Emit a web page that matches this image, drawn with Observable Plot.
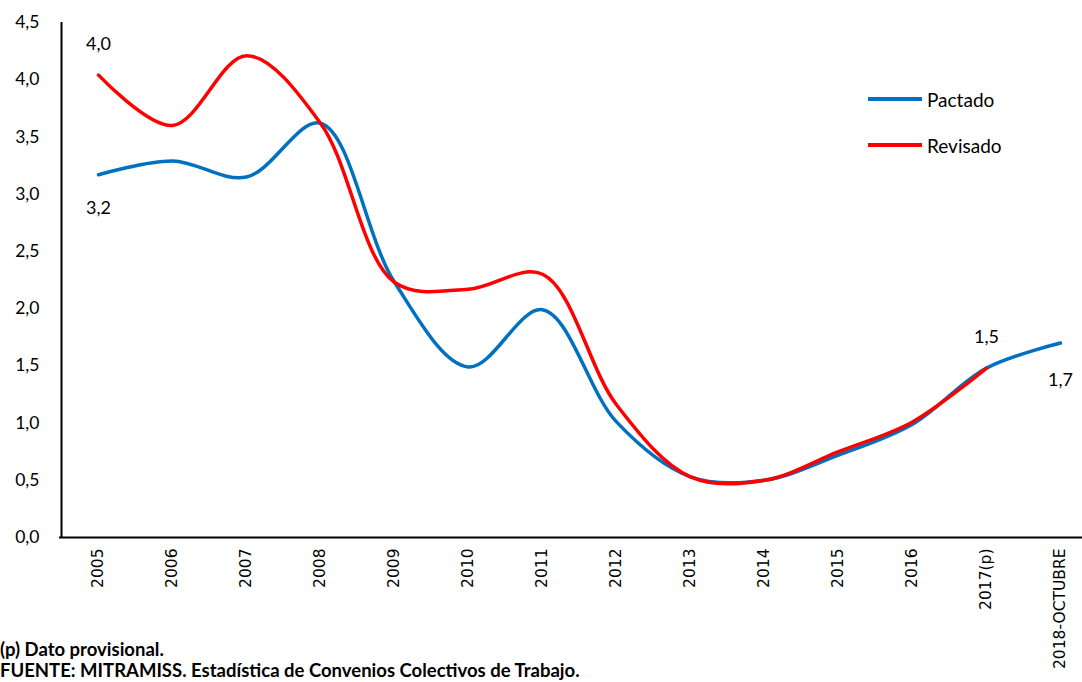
<!DOCTYPE html>
<html>
<head>
<meta charset="utf-8">
<script src="https://cdn.jsdelivr.net/npm/d3@7"></script>
<script src="https://cdn.jsdelivr.net/npm/@observablehq/plot@0.6"></script>
<style>
  html, body { margin: 0; padding: 0; background: #fff; overflow: hidden; }
  #wrap { position: relative; width: 1082px; height: 682px; overflow: hidden; }
  .legend { position: absolute; left: 868px; font-family: Lato, "Open Sans", sans-serif; font-size: 19px; color: #000; display: flex; align-items: center; height: 22px; }
  .legend .sw { width: 54px; height: 3.5px; margin-right: 5px; }
  .note { position: absolute; left: 0px; font-family: Lato, "Open Sans", sans-serif; font-weight: bold; font-size: 18.5px; color: #000; white-space: nowrap; line-height: 21px; }
</style>
</head>
<body>
<div id="wrap"></div>
<script>
const categories = ["2005","2006","2007","2008","2009","2010","2011","2012","2013","2014","2015","2016","2017(p)","2018-OCTUBRE"];
const pactado = [3.17, 3.29, 3.15, 3.62, 2.23, 1.49, 1.99, 1.01, 0.53, 0.50, 0.72, 0.99, 1.48, 1.70];
const revisado = [4.04, 3.60, 4.21, 3.62, 2.23, 2.17, 2.30, 1.16, 0.53, 0.50, 0.75, 1.01, 1.48, null];
const seriesNames = ["Pactado", "Revisado"];
const seriesColors = ["#0070C0", "#FF0000"];
const yTicks = [0, 0.5, 1, 1.5, 2, 2.5, 3, 3.5, 4, 4.5];
const labelPoints = [
  {cat: "2005", value: 4.04, text: "4,0", dy: -31},
  {cat: "2005", value: 3.17, text: "3,2", dy: 34},
  {cat: "2017(p)", value: 1.48, text: "1,5", dy: -31},
  {cat: "2018-OCTUBRE", value: 1.70, text: "1,7", dy: 37}
];

const fmt = d => d.toFixed(1).replace(".", ",");
const rows = (vals, name) => categories.map((c, i) => ({cat: c, value: vals[i], series: name})).filter(d => d.value != null);
const dataP = rows(pactado, seriesNames[0]);
const dataR = rows(revisado, seriesNames[1]);

const chart = Plot.plot({
  width: 1082,
  height: 682,
  marginLeft: 59,
  marginRight: 0,
  marginTop: 22,
  marginBottom: 145,
  style: {fontFamily: "Lato, 'Open Sans', sans-serif", fontSize: "17px", color: "#000", background: "#fff"},
  x: {type: "point", domain: categories, range: [96, 1062], padding: 0, label: null},
  y: {domain: [0, 4.5], label: null},
  marks: [
    Plot.axisY({ticks: yTicks, tickFormat: fmt, tickSize: 0, tickPadding: 20, fontSize: 17.5, fontFamily: "Lato, 'Open Sans', sans-serif", fill: "#000", label: null}),
    Plot.axisX({tickSize: 0, tickPadding: 11, tickRotate: -90, fontSize: 15.5, fontFamily: "'DejaVu Sans', sans-serif", fill: "#000", label: null}),
    Plot.ruleX([0], {x: () => categories[0], dx: -37, y1: 0, y2: 4.5, stroke: "#000", strokeWidth: 2}),
    Plot.ruleY([0], {stroke: "#000", strokeWidth: 2}),
    Plot.line(dataP, {x: "cat", y: "value", stroke: seriesColors[0], strokeWidth: 3.5, curve: "catmull-rom"}),
    Plot.line(dataR, {x: "cat", y: "value", stroke: seriesColors[1], strokeWidth: 3.5, curve: "catmull-rom"}),
    ...labelPoints.map(l => Plot.text([l], {x: "cat", y: "value", text: "text", dy: l.dy, fontSize: 18, fill: "#000"}))
  ]
});

const wrap = document.getElementById("wrap");
wrap.appendChild(chart);

seriesNames.forEach((name, i) => {
  const el = document.createElement("div");
  el.className = "legend";
  el.style.top = (i === 0 ? 88 : 134) + "px";
  el.innerHTML = `<span class="sw" style="background:${seriesColors[i]}"></span><span>${name}</span>`;
  wrap.appendChild(el);
});

const notes = ["(p) Dato provisional.", "FUENTE: MITRAMISS. Estadística de Convenios Colectivos de Trabajo."];
notes.forEach((t, i) => {
  const el = document.createElement("div");
  el.className = "note";
  el.style.top = (i === 0 ? 639 : 660) + "px";
  el.textContent = t;
  wrap.appendChild(el);
});
</script>
</body>
</html>
